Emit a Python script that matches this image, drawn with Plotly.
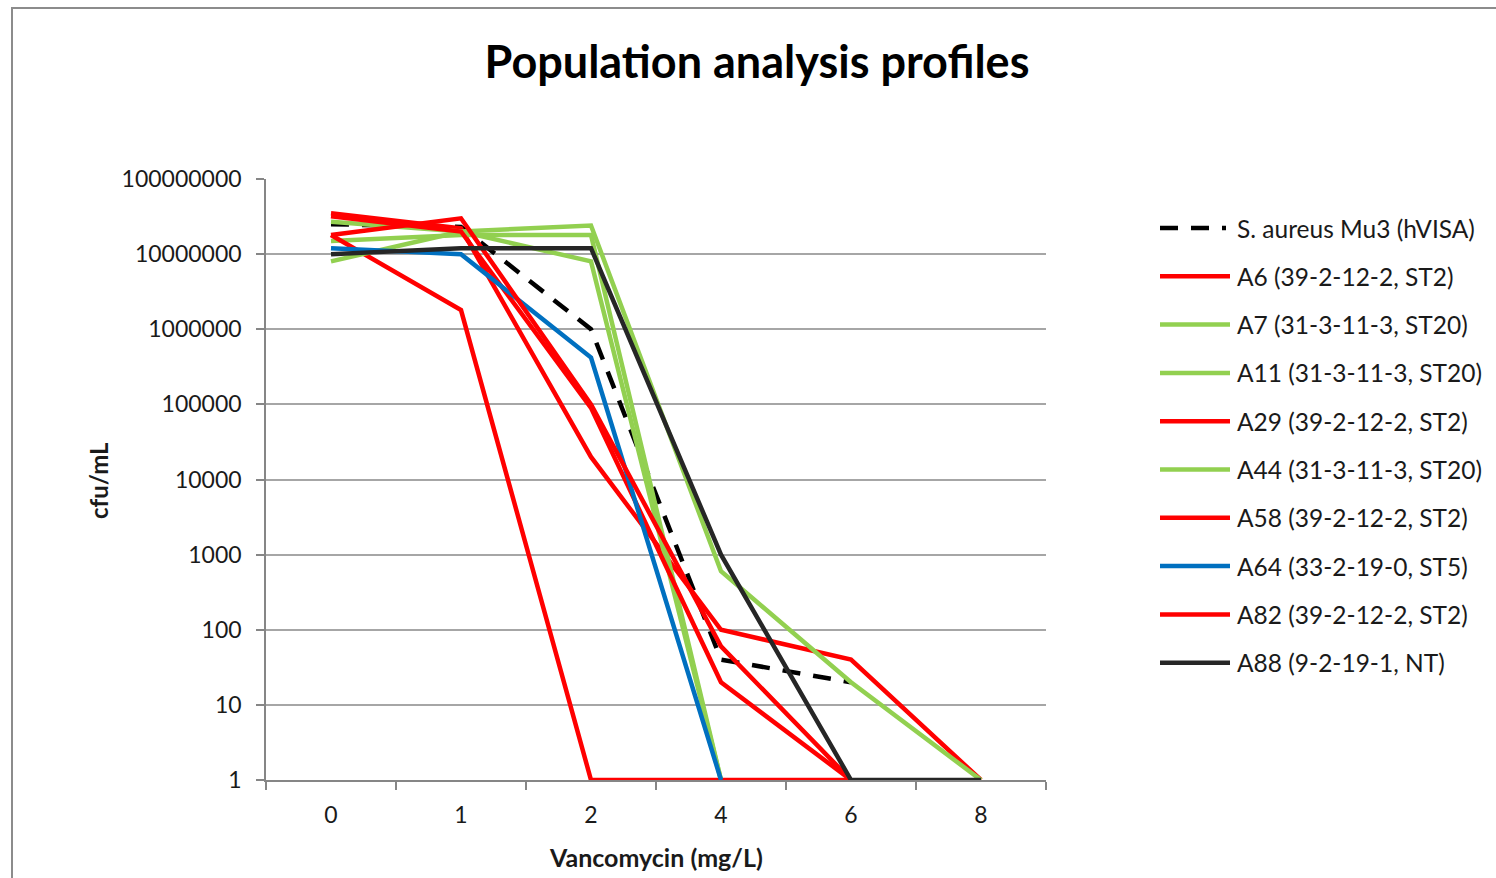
import plotly.graph_objects as go

# Vancomycin concentrations (mg/L), plotted as evenly spaced categories
concentrations = ["0", "1", "2", "4", "6", "8"]

# Surviving population (cfu/mL) per strain; None where no point was plotted
mu3_hvisa = [2.5e7, 2.3e7, 1.0e6, 40, 20, None]
a6 = [3.5e7, 2.2e7, 2.0e4, 100, 40, 1]
a7 = [2.7e7, 2.0e7, 8.0e6, 1, None, None]
a11 = [1.5e7, 1.8e7, 1.8e7, 1, None, None]
a29 = [1.8e7, 1.8e6, 1, 1, 1, None]
a44 = [8.0e6, 2.0e7, 2.4e7, 600, 20, 1]
a58 = [3.2e7, 2.0e7, 9.0e4, 20, 1, None]
a64 = [1.2e7, 1.0e7, 4.2e5, 1, None, None]
a82 = [1.8e7, 3.0e7, 1.0e5, 60, 1, None]
a88 = [1.0e7, 1.2e7, 1.2e7, 1000, 1, 1]

series_names = [
    "S. aureus Mu3 (hVISA)",
    "A6 (39-2-12-2, ST2)",
    "A7 (31-3-11-3, ST20)",
    "A11 (31-3-11-3, ST20)",
    "A29 (39-2-12-2, ST2)",
    "A44 (31-3-11-3, ST20)",
    "A58 (39-2-12-2, ST2)",
    "A64 (33-2-19-0, ST5)",
    "A82 (39-2-12-2, ST2)",
    "A88 (9-2-19-1, NT)",
]
series_values = [mu3_hvisa, a6, a7, a11, a29, a44, a58, a64, a82, a88]

y_tick_values = [1, 10, 100, 1000, 10000, 100000, 1000000, 10000000, 100000000]
y_tick_labels = [str(v) for v in y_tick_values]

# Styling
RED, GREEN, BLUE, DARK = "#FF0000", "#92D050", "#0070C0", "#262626"
DASH = "18px,13px"
styles = [
    dict(color="#000000", dash=DASH),
    dict(color=RED, dash="solid"),
    dict(color=GREEN, dash="solid"),
    dict(color=GREEN, dash="solid"),
    dict(color=RED, dash="solid"),
    dict(color=GREEN, dash="solid"),
    dict(color=RED, dash="solid"),
    dict(color=BLUE, dash="solid"),
    dict(color=RED, dash="solid"),
    dict(color=DARK, dash="solid"),
]
LINE_W = 4.5
FONT = "Lato, 'Open Sans', sans-serif"
TEXT = "#1a1a1a"
GRID = "#a6a6a6"

W, H = 1496, 878
PL, PR, PT, PB = 266, 1046, 179, 780  # plot area in pixels


def px_x(px):
    return (px - PL) / (PR - PL)


def px_y(py):
    return (PB - py) / (PB - PT)


fig = go.Figure()
for name, vals, st in zip(series_names, series_values, styles):
    fig.add_trace(go.Scatter(
        x=concentrations, y=vals, name=name, mode="lines",
        line=dict(color=st["color"], width=LINE_W, dash=st["dash"]),
        connectgaps=False, showlegend=False, hoverinfo="x+y+name",
    ))

shapes = []
annotations = []

# outer chart border
shapes.append(dict(type="rect", xref="paper", yref="paper",
                   x0=px_x(12), x1=px_x(1520), y0=px_y(900), y1=px_y(8),
                   line=dict(color="#8c8c8c", width=2), fillcolor="rgba(0,0,0,0)",
                   layer="below"))

# legend drawn beside the plot
LEG_X0, LEG_X1, LEG_TX = 1160, 1230, 1235
LEG_Y0, LEG_DY = 228, 48.3
for i, (name, st) in enumerate(zip(series_names, styles)):
    yy = LEG_Y0 + i * LEG_DY
    shapes.append(dict(type="line", xref="paper", yref="paper",
                       x0=px_x(LEG_X0), x1=px_x(LEG_X1 if st["dash"] == "solid" else 1226),
                       y0=px_y(yy), y1=px_y(yy),
                       line=dict(color=st["color"], width=LINE_W, dash=st["dash"])))
    annotations.append(dict(xref="paper", yref="paper", x=px_x(LEG_TX), y=px_y(yy),
                            text=name, showarrow=False, xanchor="left", yanchor="middle",
                            font=dict(family=FONT, size=24.5, color=TEXT)))

# axis titles
annotations.append(dict(xref="paper", yref="paper", x=px_x(656), y=px_y(857),
                        text="<b>Vancomycin (mg/L)</b>", showarrow=False,
                        xanchor="center", yanchor="middle",
                        font=dict(family=FONT, size=25, color=TEXT)))
annotations.append(dict(xref="paper", yref="paper", x=px_x(98), y=px_y(481),
                        text="<b>cfu/mL</b>", showarrow=False, textangle=-90,
                        xanchor="center", yanchor="middle",
                        font=dict(family=FONT, size=24, color=TEXT)))

fig.update_layout(
    width=W, height=H,
    margin=dict(l=PL, r=W - PR, t=PT, b=H - PB, autoexpand=False),
    paper_bgcolor="white", plot_bgcolor="white",
    title=dict(text="<b>Population analysis profiles</b>",
               x=757 / W, xref="container", xanchor="center",
               y=1 - 62 / H, yref="container", yanchor="middle",
               font=dict(family=FONT, size=45, color="#000000")),
    shapes=shapes, annotations=annotations,
    showlegend=False,
)

fig.update_xaxes(
    type="category", tickson="boundaries", range=[-0.5, len(concentrations) - 0.5],
    showline=True, linecolor="#868686", linewidth=1.5,
    ticks="outside", ticklen=8, tickcolor="#868686", tickwidth=1.5,
    showgrid=False, zeroline=False,
    tickfont=dict(family=FONT, size=23, color=TEXT),
    ticklabelstandoff=14,
)
fig.update_yaxes(
    type="log", range=[0, 8],
    tickvals=y_tick_values, ticktext=y_tick_labels,
    showline=True, linecolor="#868686", linewidth=1.5,
    ticks="outside", ticklen=8, tickcolor="#868686", tickwidth=1.5,
    showgrid=True, gridcolor=GRID, gridwidth=1.5, zeroline=False,
    tickfont=dict(family=FONT, size=23, color=TEXT),
    ticklabelstandoff=10,
)

fig.write_html("out.html")
